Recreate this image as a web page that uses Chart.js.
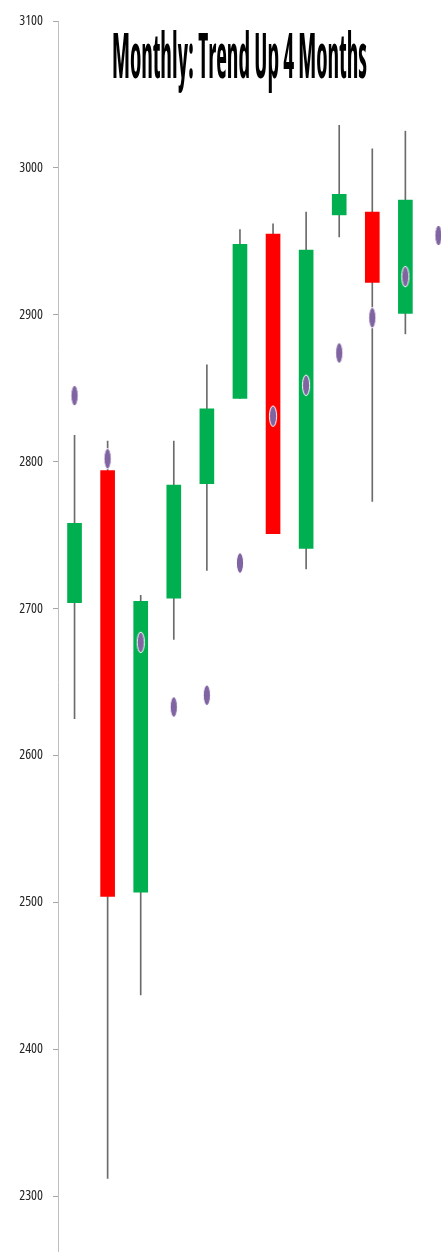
<!DOCTYPE html>
<html>
<head>
<meta charset="utf-8">
<script src="https://cdn.jsdelivr.net/npm/chart.js@4.4.1/dist/chart.umd.min.js"></script>
<style>
  html, body { margin: 0; padding: 0; background: #ffffff; overflow: hidden; }
  #viewport { position: relative; width: 441px; height: 1252px; overflow: hidden; background: #fff; }
  #holder { position: absolute; left: 0; top: 0; width: 455px; height: 1343px; }
</style>
</head>
<body>
<div id="viewport"><div id="holder"><canvas id="c"></canvas></div></div>
<script>
// ---- data ----
const categories = ['M1','M2','M3','M4','M5','M6','M7','M8','M9','M10','M11','M12'];
const opens  = [2704, 2794, 2507, 2707, 2785, 2843, 2955, 2741, 2968, 2970, 2901, null];
const closes = [2758, 2504, 2705, 2784, 2836, 2948, 2751, 2944, 2982, 2922, 2978, null];
const highs  = [2818, 2814, 2709, 2814, 2866, 2958, 2962, 2970, 3029, 3013, 3025, null];
const lows   = [2625, 2312, 2437, 2679, 2726, 2843, 2751, 2727, 2953, 2773, 2887, null];
const markers = [2845, 2802, 2677, 2633, 2641, 2731, 2831, 2852, 2874, 2898, 2926, 2954];
const yTicks = [2300, 2400, 2500, 2600, 2700, 2800, 2900, 3000, 3100];
const titleText = 'Monthly: Trend Up 4 Months';

const UP = '#00b050', DOWN = '#ff0000', DOT = '#8064a2';

const bodies = opens.map((o, i) => (o === null ? null : [o, closes[i]]));
const wicks = lows.map((l, i) => (l === null ? null : [l, highs[i]]));
const bodyColors = opens.map((o, i) => (o !== null && closes[i] < o ? DOWN : UP));

// ellipse marker image
const dotImg = document.createElement('canvas');
dotImg.width = 10; dotImg.height = 23;
(function () {
  const g = dotImg.getContext('2d');
  g.beginPath();
  g.ellipse(5, 11.5, 3.6, 10.3, 0, 0, Math.PI * 2);
  g.fillStyle = DOT;
  g.fill();
  g.lineWidth = 1;
  g.strokeStyle = '#ffffff';
  g.stroke();
})();

const overlayTitle = {
  id: 'overlayTitle',
  afterDraw(chart) {
    const ctx = chart.ctx;
    ctx.save();
    ctx.font = "bold condensed 62px 'Open Sans', 'Liberation Sans Narrow', sans-serif";
    ctx.fillStyle = '#000000';
    ctx.textBaseline = 'alphabetic';
    ctx.textAlign = 'left';
    const w = ctx.measureText(titleText).width;
    const sx = 255 / w;
    ctx.translate(112, 78);
    ctx.scale(sx, 1);
    ctx.fillText(titleText, 0, 0);
    ctx.restore();
  }
};

new Chart(document.getElementById('c'), {
  data: {
    labels: categories,
    datasets: [
      { type: 'line', label: 'Marker', data: markers, showLine: false,
        pointStyle: dotImg, pointRadius: 6, order: 0 },
      { type: 'bar', label: 'Body', data: bodies, backgroundColor: bodyColors,
        borderWidth: 0, barThickness: 14, grouped: false, order: 1 },
      { type: 'bar', label: 'Wick', data: wicks, backgroundColor: '#6b6b6b',
        borderWidth: 0, barThickness: 1, grouped: false, order: 2 }
    ]
  },
  options: {
    responsive: true,
    maintainAspectRatio: false,
    animation: false,
    layout: { autoPadding: false, padding: { top: 21, right: 0, bottom: 0, left: 0 } },
    plugins: {
      legend: { display: false },
      tooltip: { enabled: false },
      title: { display: false }
    },
    scales: {
      x: { type: 'category', display: false, offset: true },
      y: {
        type: 'linear',
        min: 2200,
        max: 3100,
        afterBuildTicks(scale) { scale.ticks = yTicks.map(v => ({ value: v })); },
        afterFit(scale) { scale.width = 58; scale.paddingBottom = 0; scale.paddingTop = 0; },
        border: { display: true, color: '#bfbfbf', width: 1 },
        grid: { drawOnChartArea: false, drawTicks: true, tickLength: 5, tickColor: '#a6a6a6' },
        ticks: {
          padding: 10,
          color: '#262626',
          callback: v => String(v),
          font: { family: "'Open Sans', 'Liberation Sans Narrow', sans-serif", size: 14, weight: 'condensed' }
        }
      }
    }
  },
  plugins: [overlayTitle]
});
</script>
</body>
</html>
